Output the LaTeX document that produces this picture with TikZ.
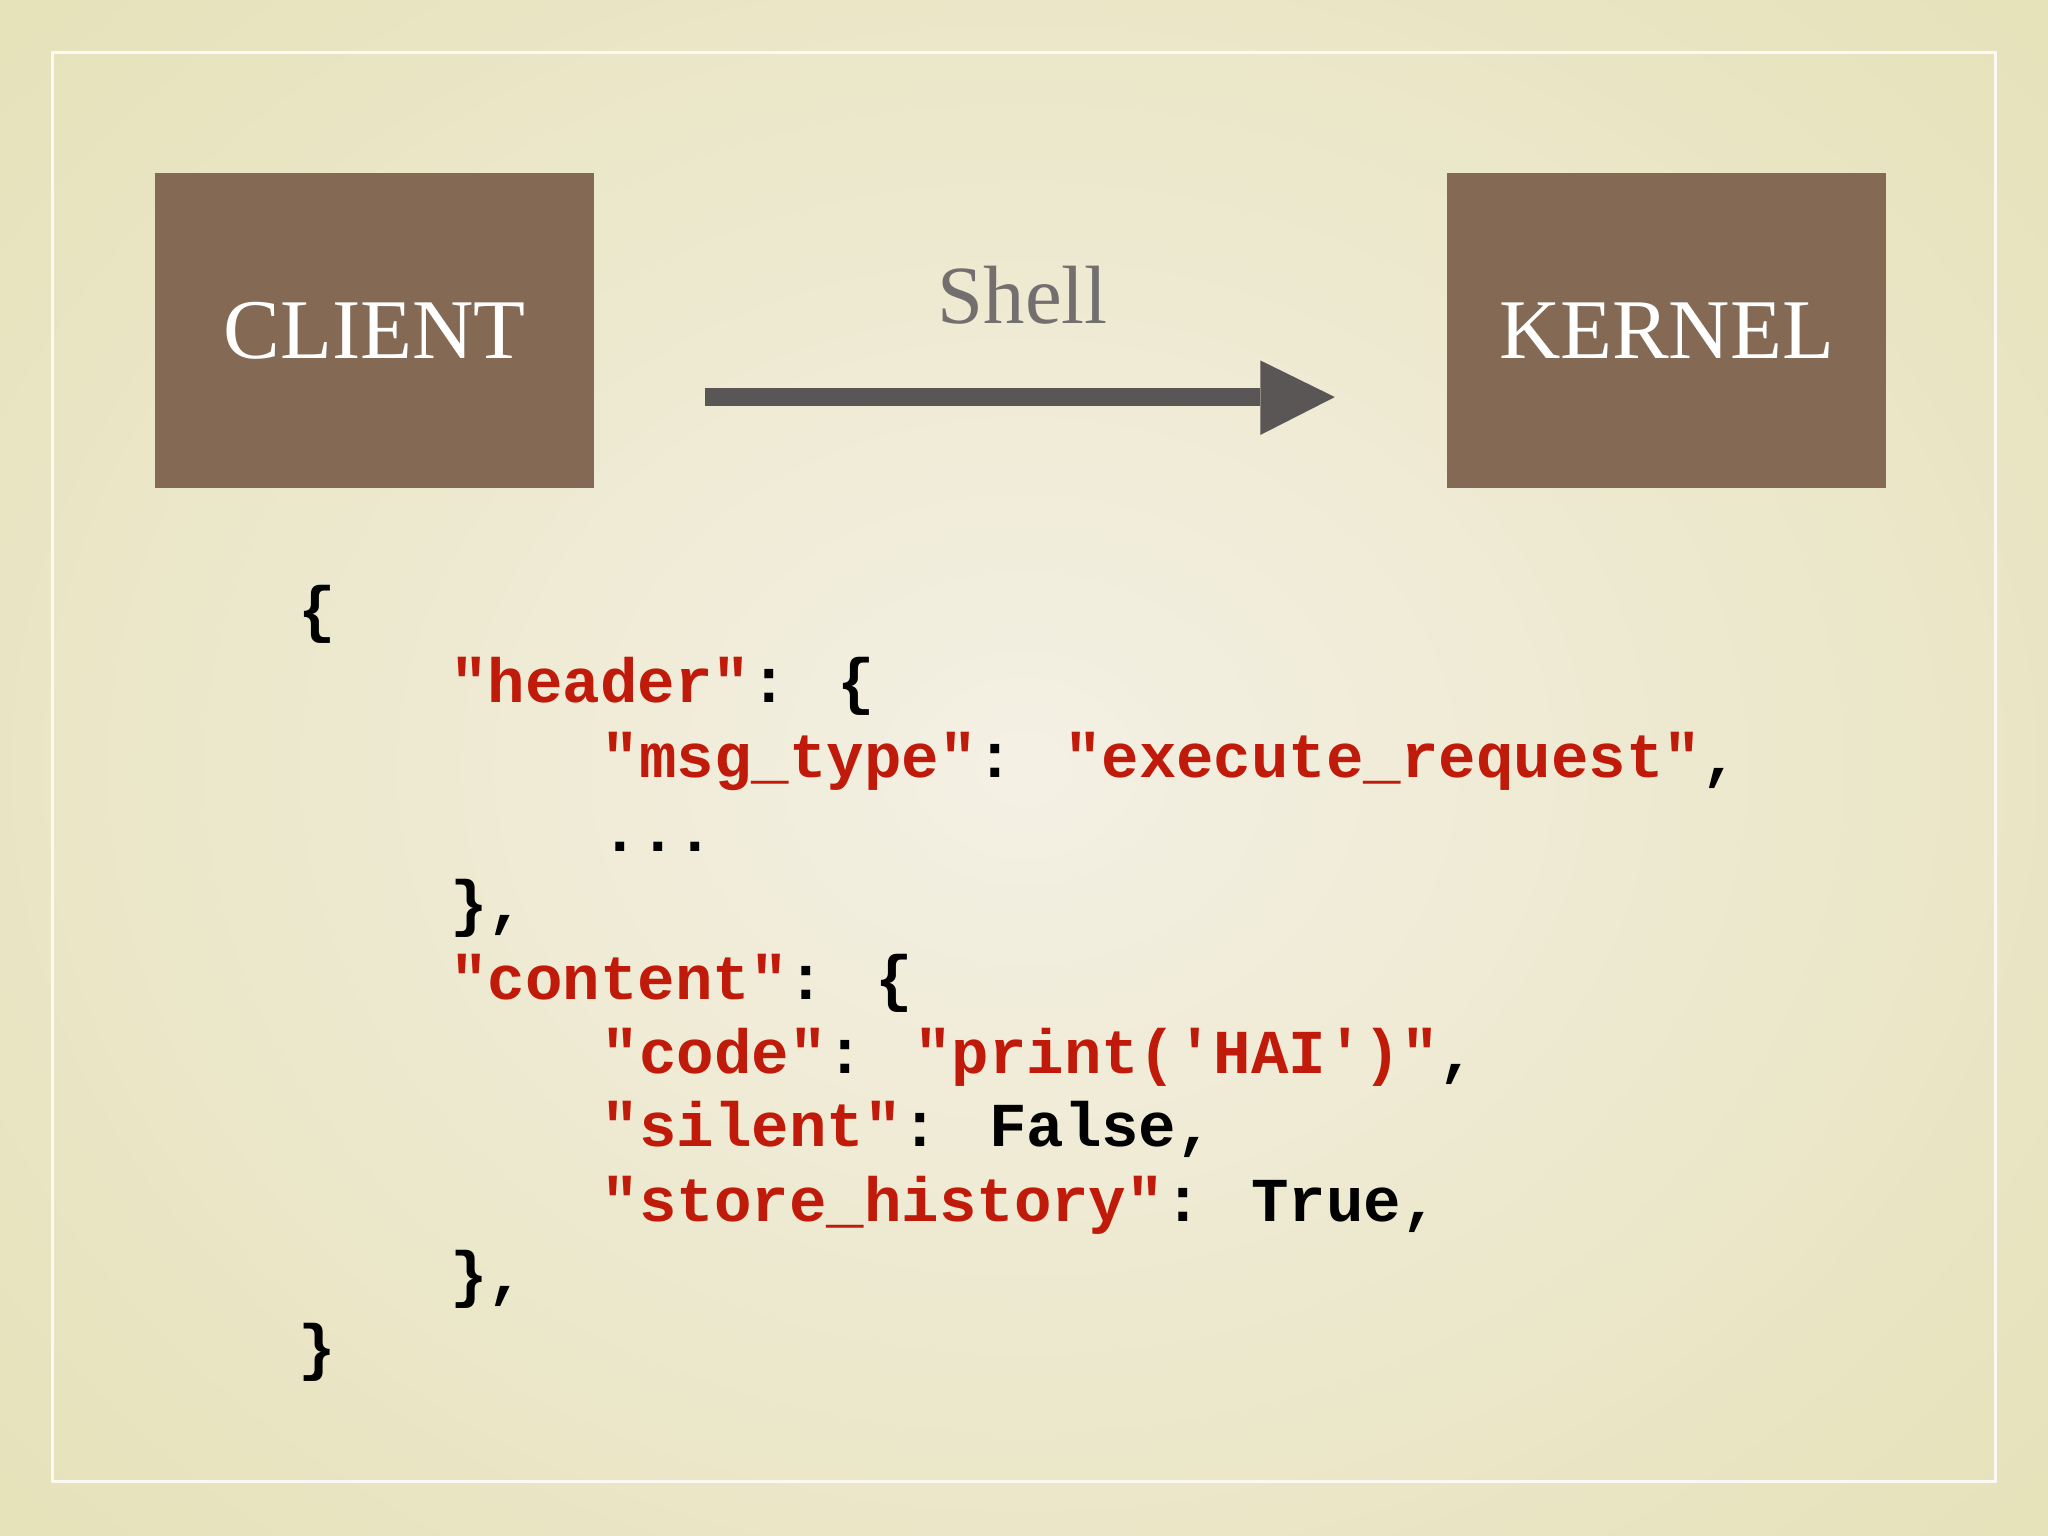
\documentclass[tikz,border=0pt]{standalone}
\usepackage{fontspec}
\setmainfont{Liberation Serif}
\newfontfamily\codefont{Liberation Mono}
\definecolor{boxc}{HTML}{846A55}
\definecolor{arr}{HTML}{5A5656}
\definecolor{jred}{HTML}{C01A0A}
\definecolor{bgin}{HTML}{F4F0E4}
\definecolor{bgout}{HTML}{E6E2BA}
\tikzset{
  bx/.style={fill=boxc,draw=none,text=white,font=\fontsize{18.5}{22}\selectfont},
  code/.style={anchor=base west,inner sep=0pt,font=\codefont\bfseries\fontsize{13.6}{16}\selectfont}
}
\newcommand{\rs}[1]{\textcolor{jred}{#1}}
\begin{document}
\begin{tikzpicture}[x=0.01cm,y=-0.01cm]
\useasboundingbox (0,0) rectangle (1568,1176);
\fill[bgout] (0,0) rectangle (1568,1176);
\shade[inner color=bgin,outer color=bgout] (-250,-250) rectangle (1818,1426);
\draw[white!60!bgin,line width=0.6pt] (40,40) rectangle (1528,1134);
\node[bx,minimum width=3.36cm,minimum height=2.41cm] (client) at (287,253) {CLIENT};
\node[bx,minimum width=3.36cm,minimum height=2.41cm] (kernel) at (1276,253) {KERNEL};
\coordinate (a1) at (540,304);
\coordinate (a2) at (965,304);
\draw[arr,line width=0.14cm] (a1) -- (a2);
\fill[arr] (965,276) -- (1022,304) -- (965,333) -- cycle;
\node[text=arr!85!white,font=\fontsize{18}{22}\selectfont] (shell) at (783,226) {Shell};
\node[code] (l1) at (228,483) {\{};
\node[code] (l2) at (344,538) {\rs{"header"}: \{};
\node[code] (l3) at (460,595) {\rs{"msg\_type"}: \rs{"execute\_request"},};
\node[code] (l4) at (460,652) {...};
\node[code] (l5) at (344,708) {\},};
\node[code] (l6) at (344,765) {\rs{"content"}: \{};
\node[code] (l7) at (460,822) {\rs{"code"}: \rs{"print('HAI')"},};
\node[code] (l8) at (460,878) {\rs{"silent"}: False,};
\node[code] (l9) at (460,935) {\rs{"store\_history"}: True,};
\node[code] (l10) at (344,992) {\},};
\node[code] (l11) at (228,1048) {\}};
\end{tikzpicture}
\end{document}
